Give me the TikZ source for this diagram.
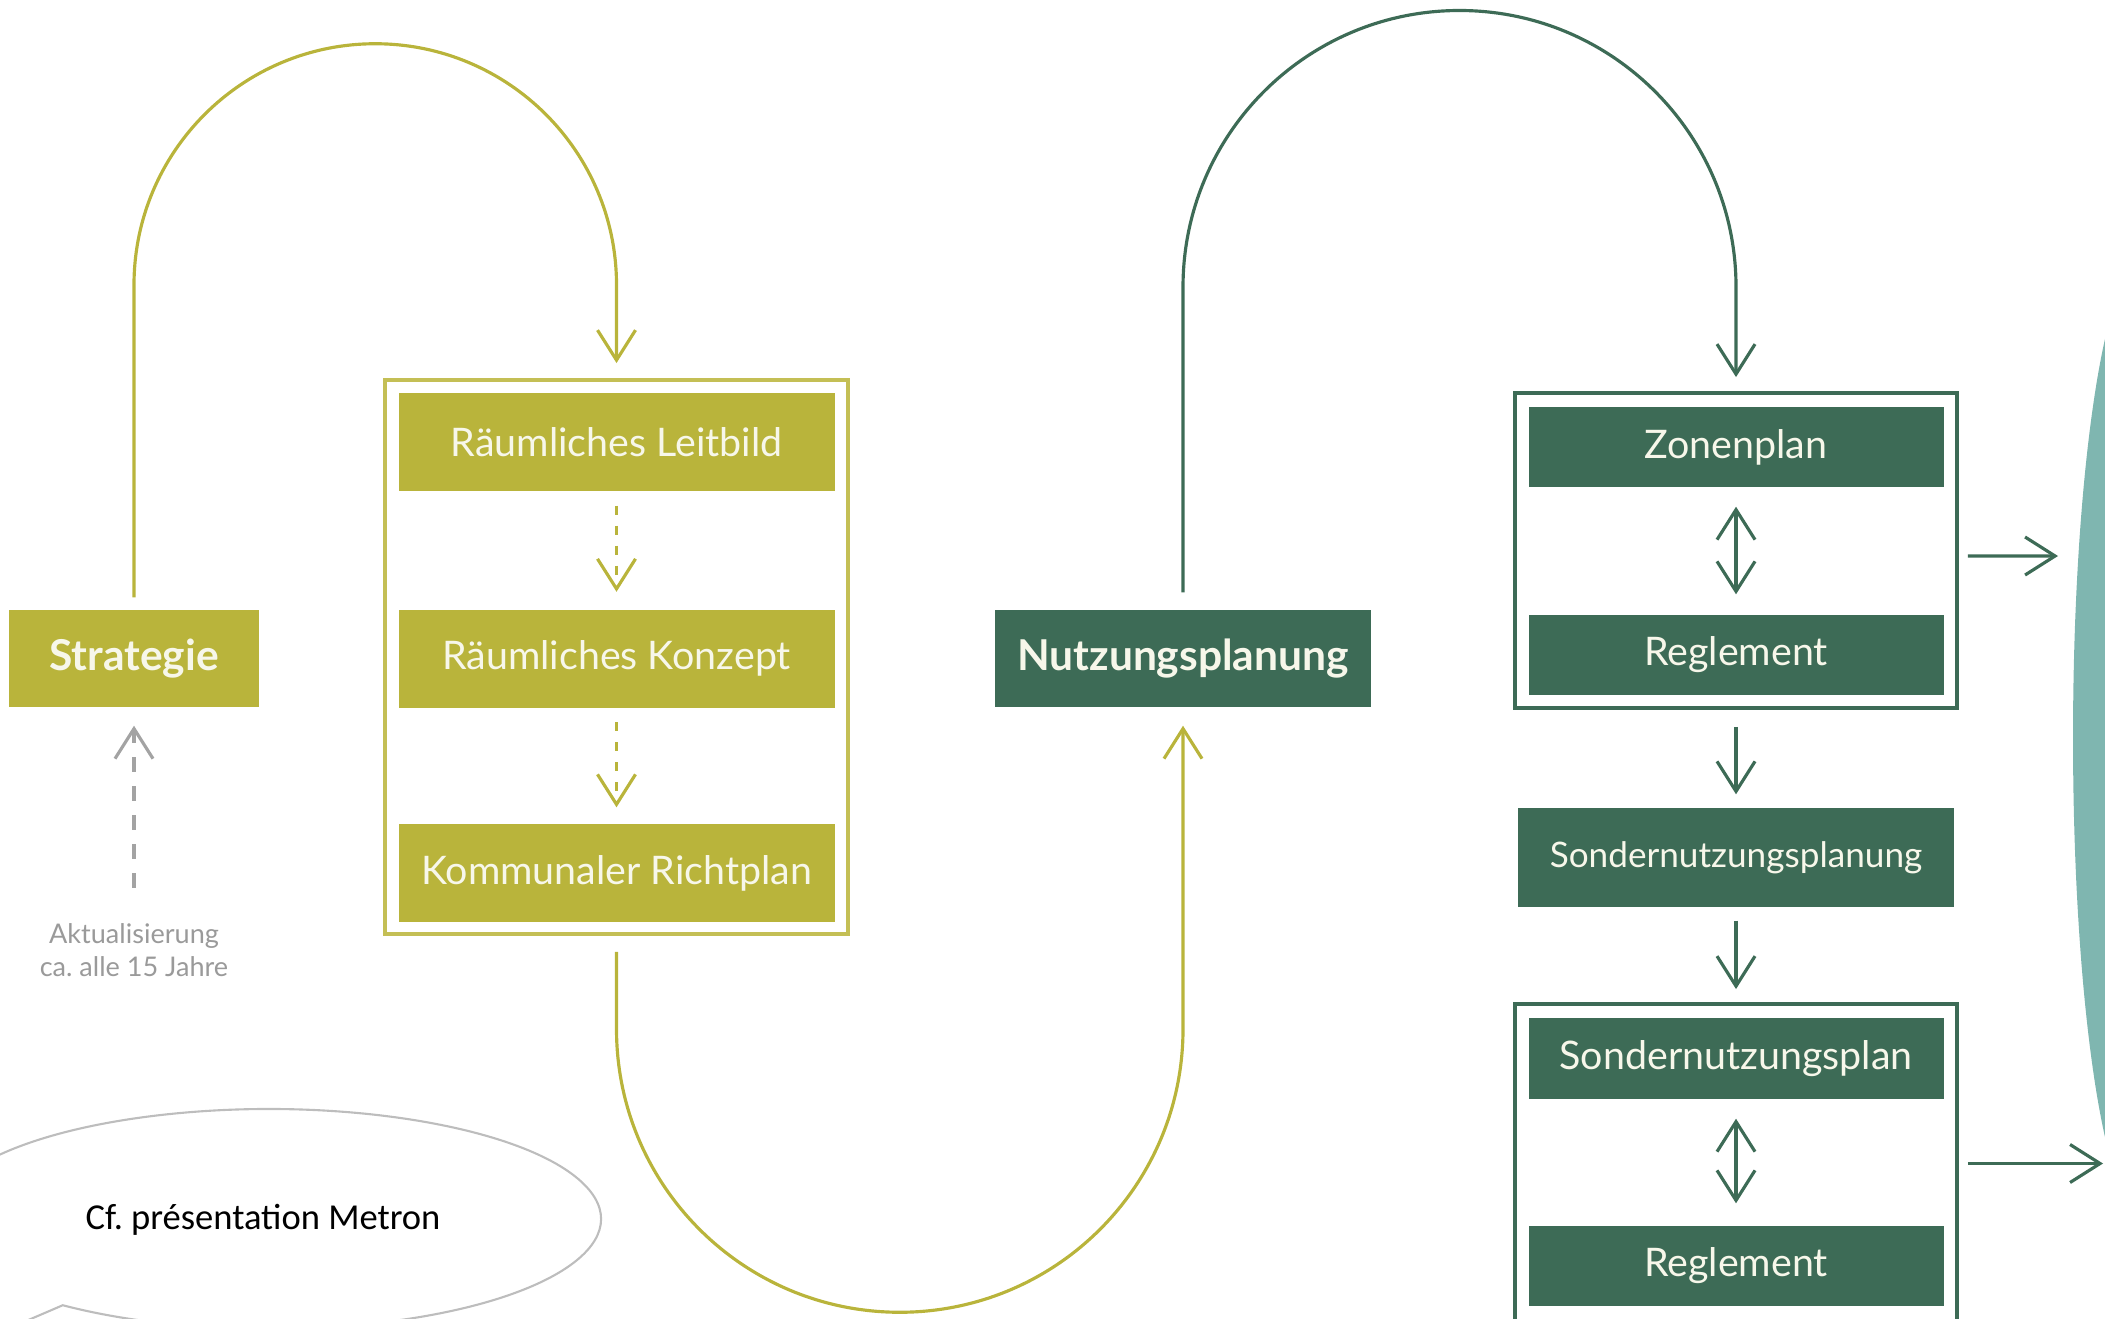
\documentclass[tikz,border=0pt]{standalone}
\usepackage{fontspec}
\setmainfont{Lato}
\newfontfamily\carl{Carlito}
\usetikzlibrary{arrows.meta,shapes.geometric,calc}
\definecolor{yolive}{HTML}{B9B43B}
\definecolor{yframe}{HTML}{C4BF55}
\definecolor{dgreen}{HTML}{3D6B56}
\definecolor{tealc}{HTML}{7FB6B0}
\definecolor{cream}{HTML}{F7F7EA}
\definecolor{grayarr}{HTML}{A3A3A3}
\definecolor{graytxt}{HTML}{9A9A9A}
\definecolor{bubblec}{HTML}{BDBDBD}
\begin{document}
\frenchspacing
\begin{tikzpicture}[x=1cm,y=1cm,
  barb/.style={-{Straight Barb[length=3mm,width=3.8mm]}},
  dbarb/.style={{Straight Barb[length=3mm,width=3.8mm]}-{Straight Barb[length=3mm,width=3.8mm]}},
  yline/.style={draw=yolive,line width=0.9pt},
  gline/.style={draw=dgreen,line width=0.9pt},
  boxbase/.style={rectangle,inner sep=0pt,text=cream,font=\fontsize{11.2}{13}\selectfont},
  ybox/.style={boxbase,fill=yolive,minimum width=4.36cm,minimum height=0.98cm},
  gbox/.style={boxbase,fill=dgreen,minimum width=4.15cm,minimum height=0.80cm},
  yfr/.style={rectangle,draw=yframe,line width=1.1pt,inner sep=0pt},
  gfr/.style={rectangle,draw=dgreen,line width=1.1pt,inner sep=0pt},
  boldtxt/.style={font=\fontsize{12.1}{14}\selectfont\bfseries},
]
\useasboundingbox (0,0) rectangle (21.05,13.18);
\clip (0,0) rectangle (21.05,13.18);

% teal backdrop shape on the right edge
\node[ellipse,fill=tealc,minimum width=1.44cm,minimum height=9.6cm,inner sep=0pt] (tealshape) at (21.45,5.80) {};

% yellow part
\node[ybox,minimum width=2.50cm,minimum height=0.97cm,boldtxt] (strat) at (1.34,6.595) {Strategie};
\node[yfr,minimum width=4.63cm,minimum height=5.54cm] (fy) at (6.165,6.61) {};
\node[ybox] (leit) at (6.165,8.76) {Räumliches Leitbild};
\node[ybox] (konz) at (6.165,6.595) {Räumliches Konzept};
\node[ybox] (richt) at (6.165,4.45) {Kommunaler Richtplan};

\draw[yline,barb,dash pattern=on 0.9mm off 1.1mm] ([yshift=-1.4mm]leit.south) -- ([yshift=1.7mm]konz.north);
\draw[yline,barb,dash pattern=on 0.9mm off 1.1mm] ([yshift=-1.4mm]konz.south) -- ([yshift=1.6mm]richt.north);

\node[align=center,text=graytxt,font=\fontsize{7.7}{9.4}\selectfont] (akt) at (1.34,3.675) {Aktualisierung\\ca. alle 15 Jahre};
\draw[draw=grayarr,line width=0.9pt,barb,dash pattern=on 0.15cm off 0.14cm] ([yshift=2.4mm]akt.north) -- ([yshift=-1.8mm]strat.south);

\draw[yline,barb] ([yshift=1.2mm]strat.north) -- (1.34,10.33) arc[start angle=180,end angle=0,radius=2.4125] -- ([yshift=1.5mm]fy.north);

% green part
\node[gbox,minimum width=3.76cm,minimum height=0.97cm,boldtxt] (nutz) at (11.83,6.595) {Nutzungsplanung};
\draw[yline,barb] ([yshift=-1.6mm]fy.south) -- (6.165,2.89) arc[start angle=180,end angle=360,radius=2.8325] -- ([yshift=-1.8mm]nutz.south);

\node[gfr,minimum width=4.42cm,minimum height=3.15cm] (fg1) at (17.36,7.675) {};
\node[gbox] (zon) at (17.36,8.71) {Zonenplan};
\node[gbox] (reg1) at (17.36,6.63) {Reglement};
\node[gbox,minimum width=4.36cm,minimum height=0.99cm,font=\fontsize{10}{12}\selectfont] (snp) at (17.36,4.605) {Sondernutzungsplanung};
\node[gfr,minimum width=4.42cm,minimum height=3.19cm] (fg2) at (17.36,1.545) {};
\node[gbox,minimum height=0.81cm] (snpl) at (17.36,2.595) {Sondernutzungsplan};
\node[gbox] (reg2) at (17.36,0.52) {Reglement};

\draw[gline,barb] ([yshift=1.7mm]nutz.north) -- (11.83,10.31) arc[start angle=180,end angle=0,radius=2.765] -- ([yshift=1.4mm]fg1.north);
\draw[gline,dbarb] ([yshift=-1.9mm]zon.south) -- ([yshift=2mm]reg1.north);
\draw[gline,barb] ([yshift=-1.7mm]fg1.south) -- ([yshift=1.3mm]snp.north);
\draw[gline,barb] ([yshift=-1.3mm]snp.south) -- ([yshift=1.3mm]fg2.north);
\draw[gline,dbarb] ([yshift=-1.9mm]snpl.south) -- ([yshift=2.2mm]reg2.north);

\coordinate (e1) at (20.58,7.62);
\coordinate (e2) at (21.03,1.545);
\draw[gline,barb] ([xshift=0.9mm,yshift=-0.55mm]fg1.east) -- (e1);
\draw[gline,barb] ([xshift=0.9mm]fg2.east) -- (e2);

% callout bubble
\draw[draw=bubblec,line width=0.6pt] (-0.6,-0.4) -- ($(2.69,0.99)+(200:3.32cm and 1.10cm)$) arc[start angle=200,end angle=-128.4,x radius=3.32,y radius=1.10] -- cycle;
\node[font=\carl\fontsize{10.4}{12}\selectfont,text=black] (cf) at (2.63,0.98) {Cf. présentation Metron};
\end{tikzpicture}
\end{document}
